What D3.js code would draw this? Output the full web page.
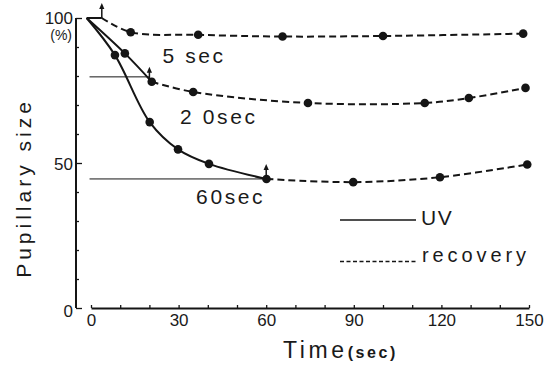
<!DOCTYPE html>
<html><head><meta charset="utf-8">
<script src="https://cdn.jsdelivr.net/npm/d3@7"></script>
<style>
html,body{margin:0;padding:0;background:#fff;}
svg{display:block;}
text{font-family:"Liberation Sans",Arial,sans-serif;fill:#1a1a1a;}
</style></head>
<body>
<svg id="c" width="556" height="365"></svg>
<script>
// ---- data ----
const xTickValues = d3.range(0, 151, 10);
const xLabelValues = [0, 30, 60, 90, 120, 150];
const yTickValues = d3.range(0, 101, 10);
const yLabelValues = [0, 50, 100];

// 5 sec
const uv5 = [[-1.5, 100], [3.7, 100]];
const rec5 = [[3.7, 100], [13.6, 95.1], [36.7, 94.2], [65.6, 93.6], [100, 93.8], [148, 94.6]];
// 20 sec
const uv20 = [[-1.5, 100], [11.6, 87.8], [20.8, 78.0]];
const rec20 = [[20.8, 78.0], [35, 74.5], [74.3, 70.7], [114.3, 70.7], [129.4, 72.4], [148.8, 75.9]];
// 60 sec
const uv60 = [[-1.5, 100], [8.2, 87.2], [20.1, 64.1], [29.8, 54.7], [40.4, 49.7], [60.1, 44.5]];
const rec60 = [[60.1, 44.5], [89.8, 43.4], [119.5, 45.1], [149.4, 49.5]];

// stimulus duration reference lines: [start, end, level]
const refLines = [[-0.5, 20, 79.7], [-0.5, 60, 44.5]];
// stimulus-off arrows: [time, level]
const arrows = [[3.7, 100], [20, 78.0], [60, 44.5]];

const seriesLabels = [
  {text: "5 sec", x: 24.5, y: 84.5},
  {text: "2 0sec", x: 30.5, y: 63.5},
  {text: "60sec", x: 36, y: 36}
];

// ---- drawing ----
const svg = d3.select("#c");
const x = d3.scaleLinear().domain([0, 150]).range([91, 529]);
const y = d3.scaleLinear().domain([0, 100]).range([308, 18]);
const ink = "#151515";
const yAxisX = 76;

// y axis ticks (inside, to the right)
const gy = svg.append("g").attr("transform", `translate(${yAxisX},0)`);
gy.call(d3.axisRight(y).tickValues(yTickValues).tickSize(3).tickSizeOuter(0).tickFormat(""));
gy.select(".domain").remove();
gy.selectAll(".tick line").attr("stroke", ink).attr("stroke-width", 1.3)
  .attr("x2", d => yLabelValues.includes(d) ? 6 : 3);
gy.append("line").attr("x1", 0).attr("x2", 0).attr("y1", y(100)).attr("y2", y(0))
  .attr("stroke", ink).attr("stroke-width", 2);

// y labels
const gyl = svg.append("g").attr("transform", `translate(${yAxisX - 3},0)`);
gyl.call(d3.axisLeft(y).tickValues(yLabelValues).tickSize(0).tickPadding(0));
gyl.select(".domain").remove();
gyl.selectAll(".tick text").attr("font-size", 17).attr("fill", "#222")
  .style("font-family", "Liberation Sans, Arial, sans-serif")
  .attr("dy", d => d === 0 ? "0.5em" : (d === 100 ? "0.3em" : "0.36em"));
svg.append("text").attr("x", yAxisX - 4).attr("y", y(100) + 22).attr("text-anchor", "end")
  .attr("font-size", 14).text("(%)");

// x axis
const gx = svg.append("g").attr("transform", `translate(0,${y(0)})`);
gx.call(d3.axisTop(x).tickValues(xTickValues).tickSize(3).tickSizeOuter(0).tickFormat(""));
gx.select(".domain").attr("stroke", ink).attr("stroke-width", 2);
gx.selectAll(".tick line").attr("stroke", ink).attr("stroke-width", 1.3);
const gxl = svg.append("g").attr("transform", `translate(0,${y(0)})`);
gxl.call(d3.axisBottom(x).tickValues(xLabelValues).tickSize(0).tickPadding(6));
gxl.select(".domain").remove();
gxl.selectAll(".tick text").attr("font-size", 17).attr("fill", "#222")
  .style("font-family", "Liberation Sans, Arial, sans-serif");

// reference lines
svg.selectAll(".ref").data(refLines).join("line").attr("class", "ref")
  .attr("x1", d => x(d[0])).attr("x2", d => x(d[1]))
  .attr("y1", d => y(d[2])).attr("y2", d => y(d[2]))
  .attr("stroke", ink).attr("stroke-width", 1);

// curves
const line = d3.line().x(d => x(d[0])).y(d => y(d[1])).curve(d3.curveCatmullRom.alpha(0.5));
[uv5, uv20, uv60].forEach(s => svg.append("path").attr("d", line(s))
  .attr("fill", "none").attr("stroke", ink).attr("stroke-width", 2));
[rec5, rec20, rec60].forEach(s => svg.append("path").attr("d", line(s))
  .attr("fill", "none").attr("stroke", ink).attr("stroke-width", 2)
  .attr("stroke-dasharray", "7,4"));

// dots
const dots = [].concat(uv20.slice(1), uv60.slice(1), rec5.slice(1), rec20.slice(1), rec60.slice(1));
svg.selectAll(".dot").data(dots).join("circle").attr("class", "dot")
  .attr("cx", d => x(d[0])).attr("cy", d => y(d[1])).attr("r", 4.3).attr("fill", ink);

// arrows
const ga = svg.selectAll(".arr").data(arrows).join("g").attr("class", "arr")
  .attr("transform", d => `translate(${x(d[0])},${y(d[1])})`);
ga.append("line").attr("x1", 0).attr("x2", 0).attr("y1", 0).attr("y2", -11)
  .attr("stroke", ink).attr("stroke-width", 1.5);
ga.append("path").attr("d", "M-2.6,-9 L0,-15 L2.6,-9 Z").attr("fill", ink);

// series labels
svg.selectAll(".slab").data(seriesLabels).join("text").attr("class", "slab")
  .attr("x", d => x(d.x)).attr("y", d => y(d.y))
  .attr("font-size", 21).attr("letter-spacing", 2.6).text(d => d.text);

// legend
svg.append("line").attr("x1", 340).attr("x2", 416).attr("y1", 220).attr("y2", 220)
  .attr("stroke", ink).attr("stroke-width", 1.3);
svg.append("text").attr("x", 421).attr("y", 225).attr("font-size", 21).attr("letter-spacing", 1.5).text("UV");
svg.append("line").attr("x1", 340).attr("x2", 418).attr("y1", 261.5).attr("y2", 261.5)
  .attr("stroke", ink).attr("stroke-width", 1.3).attr("stroke-dasharray", "4,2.5");
svg.append("text").attr("x", 422).attr("y", 262).attr("font-size", 20).attr("letter-spacing", 3.9).text("recovery");

// axis titles
svg.append("text").attr("transform", "translate(31,188) rotate(-90)").attr("text-anchor", "middle")
  .attr("font-size", 21).attr("letter-spacing", 4).text("Pupillary size");
const tt = svg.append("text").attr("x", 283).attr("y", 358);
tt.append("tspan").attr("font-size", 23).attr("letter-spacing", 3.6).text("Time");
tt.append("tspan").attr("font-size", 16).attr("font-weight", "bold").attr("letter-spacing", 2.6).text("(sec)");
</script>
</body></html>
